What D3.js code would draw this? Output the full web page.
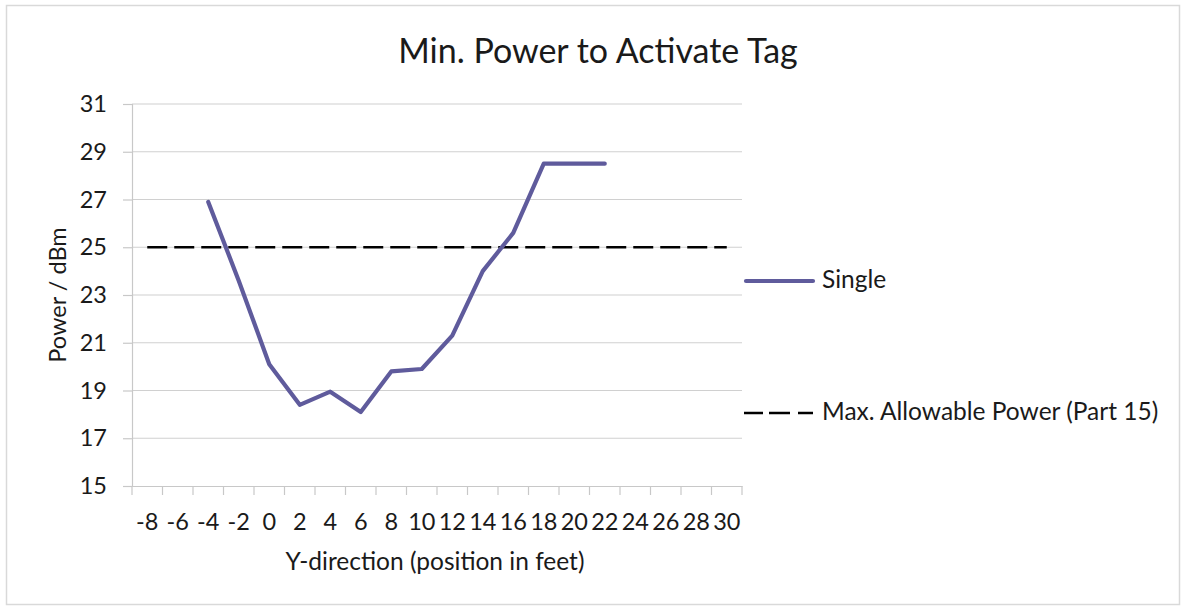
<!DOCTYPE html>
<html><head><meta charset="utf-8">
<script src="https://cdn.jsdelivr.net/npm/d3@7"></script>
<style>body{margin:0;background:#fff}svg{display:block}text{font-family:Lato,"Open Sans",sans-serif;fill:#1a1a1a}</style>
</head><body><svg id="c" width="1184" height="608"></svg>
<script>
const categories = [-8,-6,-4,-2,0,2,4,6,8,10,12,14,16,18,20,22,24,26,28,30];
const singleX = [-4,-2,0,2,4,6,8,10,12,14,16,18,20,22];
const singleY = [26.9,23.6,20.1,18.4,18.95,18.1,19.8,19.9,21.3,24.0,25.6,28.5,28.5,28.5];
const maxPower = categories.map(() => 25);
const yTicks = [15,17,19,21,23,25,27,29,31];
const title = "Min. Power to Activate Tag";
const xTitle = "Y-direction (position in feet)";
const yTitle = "Power / dBm";
const legendNames = ["Single", "Max. Allowable Power (Part 15)"];

const FS = 23.5;
const svg = d3.select("#c");
svg.append("rect").attr("x",6.5).attr("y",5.5).attr("width",1173).attr("height",599)
  .attr("fill","#fff").attr("stroke","#d9d9d9").attr("stroke-width",1.5);

const L=132, R=742, T=104, B=486;
const x = d3.scaleBand().domain(categories).range([L,R]);
const y = d3.scaleLinear().domain([15,31]).range([B,T]);

// gridlines
svg.append("g").selectAll("line").data(yTicks.slice(1)).join("line")
  .attr("x1",L).attr("x2",R).attr("y1",d=>y(d)).attr("y2",d=>y(d))
  .attr("stroke","#d0d0d0").attr("stroke-width",1.2);

// y axis
const ya = svg.append("g").attr("transform",`translate(${L},0)`)
  .call(d3.axisLeft(y).tickValues(yTicks).tickSize(9).tickPadding(16));
ya.select(".domain").attr("stroke","#c8c8c8").attr("stroke-width",1.2);
ya.selectAll(".tick line").attr("stroke","#c8c8c8").attr("stroke-width",1.2);
ya.selectAll("text").attr("font-size",FS).attr("fill","#1a1a1a").attr("font-family","Lato,'Open Sans',sans-serif");

// x axis
const xa = svg.append("g").attr("transform",`translate(0,${B})`)
  .call(d3.axisBottom(x).tickSize(0).tickPadding(27));
xa.select(".domain").attr("stroke","#c8c8c8").attr("stroke-width",1.2);
xa.selectAll("text").attr("font-size",FS).attr("fill","#1a1a1a").attr("font-family","Lato,'Open Sans',sans-serif");
// category boundary tick marks
const bounds = categories.map(c=>x(c)).concat([x(categories[categories.length-1])+x.bandwidth()]);
svg.append("g").selectAll("line").data(bounds).join("line")
  .attr("x1",d=>d).attr("x2",d=>d).attr("y1",B).attr("y2",B+9)
  .attr("stroke","#c8c8c8").attr("stroke-width",1.2);

const cx = c => x(c) + x.bandwidth()/2;
const line = d3.line().x(d=>cx(d[0])).y(d=>y(d[1]));

// max power dashed
svg.append("path").datum(categories.map((c,i)=>[c,maxPower[i]]))
  .attr("d",line).attr("fill","none").attr("stroke","#000").attr("stroke-width",2.6)
  .attr("stroke-dasharray","20,7");

// single series
svg.append("path").datum(singleX.map((c,i)=>[c,singleY[i]]))
  .attr("d",line).attr("fill","none").attr("stroke","#5f5b9c").attr("stroke-width",4.2)
  .attr("stroke-linejoin","round").attr("stroke-linecap","round");

// titles
svg.append("text").attr("x",598).attr("y",63).attr("text-anchor","middle").attr("font-size",34).text(title);
svg.append("text").attr("x",435).attr("y",570).attr("text-anchor","middle").attr("font-size",FS+1).text(xTitle);
svg.append("text").attr("transform","translate(66,295) rotate(-90)").attr("text-anchor","middle").attr("font-size",FS).text(yTitle);

// legend
const lg = svg.append("g");
lg.append("line").attr("x1",746).attr("x2",813).attr("y1",281).attr("y2",281)
  .attr("stroke","#5f5b9c").attr("stroke-width",4.2).attr("stroke-linecap","round");
lg.append("text").attr("x",822).attr("y",288).attr("font-size",FS+1).text(legendNames[0]);
lg.append("line").attr("x1",744).attr("x2",813).attr("y1",413).attr("y2",413)
  .attr("stroke","#000").attr("stroke-width",2.6).attr("stroke-dasharray","19,6,21,8,15");
lg.append("text").attr("x",822).attr("y",420).attr("font-size",FS+1).text(legendNames[1]);
</script></body></html>
